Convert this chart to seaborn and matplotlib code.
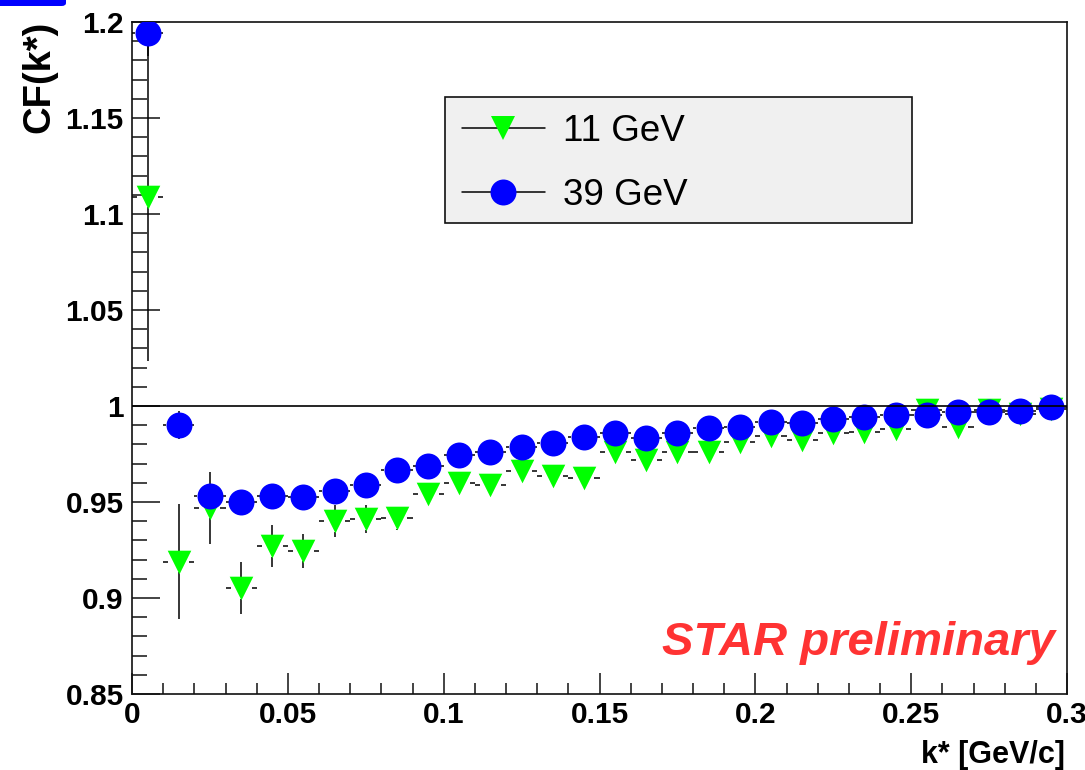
import matplotlib
matplotlib.use("Agg")
import matplotlib.pyplot as plt
from matplotlib.lines import Line2D
from matplotlib.patches import Rectangle, FancyBboxPatch
from matplotlib.ticker import FixedLocator, FuncFormatter
import pandas as pd
import seaborn as sns

# k* bin centres [GeV/c] and half bin width
kstar = [0.005, 0.015, 0.025, 0.035, 0.045, 0.055, 0.065, 0.075, 0.085, 0.095,
         0.105, 0.115, 0.125, 0.135, 0.145, 0.155, 0.165, 0.175, 0.185, 0.195,
         0.205, 0.215, 0.225, 0.235, 0.245, 0.255, 0.265, 0.275, 0.285, 0.295]
kstar_halfwidth = [0.005] * len(kstar)

# correlation function, 11 GeV
cf_11 = [1.109, 0.919, 0.947, 0.905, 0.927, 0.9245, 0.940, 0.941, 0.9415, 0.954,
         0.9597, 0.9589, 0.966, 0.9637, 0.9627, 0.9762, 0.9719, 0.9762, 0.976, 0.981,
         0.9845, 0.9823, 0.986, 0.9866, 0.988, 0.998, 0.989, 0.998, 0.996, 0.9985]
err_11 = [0.0856, 0.030, 0.0188, 0.0135, 0.0110, 0.0088, 0.0084, 0.0074, 0.0060, 0.0058,
          0.0056, 0.0055, 0.0054, 0.0052, 0.0051, 0.0050, 0.0049, 0.0048, 0.0047, 0.0046,
          0.0045, 0.0044, 0.0043, 0.0042, 0.0041, 0.0040, 0.0040, 0.0039, 0.0038, 0.0038]

# correlation function, 39 GeV
cf_39 = [1.1943, 0.9901, 0.9531, 0.9502, 0.9533, 0.9528, 0.9557, 0.9589, 0.9667, 0.9689,
         0.9745, 0.9762, 0.9785, 0.9809, 0.9837, 0.9858, 0.9832, 0.9858, 0.9886, 0.9892,
         0.9915, 0.9910, 0.9931, 0.9944, 0.9953, 0.9955, 0.9970, 0.9970, 0.9974, 0.9995]
err_39 = [0.012, 0.0075, 0.0060, 0.0050, 0.0045, 0.0045, 0.0042, 0.0040, 0.0040, 0.0038,
          0.0037, 0.0036, 0.0035, 0.0034, 0.0033, 0.0032, 0.0031, 0.0030, 0.0030, 0.0029,
          0.0028, 0.0028, 0.0027, 0.0027, 0.0026, 0.0026, 0.0025, 0.0025, 0.0024, 0.0024]

series_labels = ["11 GeV", "39 GeV"]
x_ticks = [0, 0.05, 0.1, 0.15, 0.2, 0.25, 0.3]
y_ticks = [0.85, 0.9, 0.95, 1.0, 1.05, 1.1, 1.15, 1.2]

W, H = 1085, 770
GREEN = "#00ff00"
BLUE = "#0000ff"
INK = "#111111"

sns.set_style("white")
plt.rcParams["font.family"] = ["Liberation Sans", "DejaVu Sans"]
plt.rcParams["font.weight"] = "bold"
plt.rcParams["text.color"] = "black"

fig = plt.figure(figsize=(W / 100, H / 100), dpi=100)
ax = fig.add_axes([132 / W, 1 - 694 / H, 935 / W, 672 / H])
ax.set_xlim(0, 0.3)
ax.set_ylim(0.85, 1.2)


def px_to_data(px_x, px_y):
    inv = ax.transData.inverted()
    x0, y0 = inv.transform((0, 0))
    x1, y1 = inv.transform((px_x, px_y))
    return x1 - x0, y1 - y0


def draw_errors(x, y, ex, ey, gap_px, z):
    """Error bars with a gap around the marker."""
    gx, gy = px_to_data(gap_px, gap_px)
    hx0, hx1, hy = [], [], []
    for xi, yi, exi in zip(x, y, ex):
        if exi > gx:
            hx0 += [xi - exi, xi + gx]
            hx1 += [xi - gx, xi + exi]
            hy += [yi, yi]
    ax.hlines(hy, hx0, hx1, colors="black", linewidth=1.1, zorder=z)
    vy0, vy1, vx = [], [], []
    for xi, yi, eyi in zip(x, y, ey):
        if eyi > gy:
            vy0 += [yi - eyi, yi + gy]
            vy1 += [yi - gy, yi + eyi]
            vx += [xi, xi]
    ax.vlines(vx, vy0, vy1, colors="black", linewidth=1.1, zorder=z)


df11 = pd.DataFrame({"k": kstar, "cf": cf_11})
df39 = pd.DataFrame({"k": kstar, "cf": cf_39})

draw_errors(kstar, cf_11, kstar_halfwidth, err_11, 10.5, 2)
sns.scatterplot(data=df11, x="k", y="cf", marker="v", s=17 ** 2, color=GREEN,
                linewidth=0, ax=ax, zorder=3, legend=False)
draw_errors(kstar, cf_39, kstar_halfwidth, err_39, 12.5, 4)
sns.scatterplot(data=df39, x="k", y="cf", marker="o", s=18.7 ** 2, color=BLUE,
                linewidth=0, ax=ax, zorder=5, legend=False)

ax.axhline(1.0, color="black", linewidth=1.2, zorder=6)

# axes, ticks and labels
ax.set_xlabel("")
ax.set_ylabel("")
for sp in ax.spines.values():
    sp.set_color(INK)
    sp.set_linewidth(1.2)
ax.xaxis.set_major_locator(FixedLocator(x_ticks))
ax.yaxis.set_major_locator(FixedLocator(y_ticks))
ax.xaxis.set_minor_locator(FixedLocator([i / 100 for i in range(31)]))
ax.yaxis.set_minor_locator(FixedLocator([0.85 + i / 100 for i in range(36)]))
fmt = FuncFormatter(lambda v, p: f"{v:g}")
ax.xaxis.set_major_formatter(fmt)
ax.yaxis.set_major_formatter(fmt)
ax.tick_params(axis="both", which="both", direction="in", bottom=True, left=True,
               top=False, right=False, width=1.1, color=INK, labelcolor="black",
               labelsize=21.5)
ax.tick_params(axis="x", which="major", length=15, pad=5)
ax.tick_params(axis="x", which="minor", length=8)
ax.tick_params(axis="y", which="major", length=20, pad=6)
ax.tick_params(axis="y", which="minor", length=11)
for lab in ax.get_xticklabels() + ax.get_yticklabels():
    lab.set_fontweight("bold")

fig.text(1065 / W, 1 - 755 / H, "k* [GeV/c]", ha="right", va="center",
         fontsize=22, fontweight="bold", color="black")
fig.text(39 / W, 1 - 21 / H, "CF(k*)", ha="center", va="top", rotation=90,
         fontsize=27.5, fontweight="bold", color="black")

# legend box
ax.add_patch(Rectangle((445 / W, 1 - 223 / H), 467 / W, 126 / H,
                       transform=fig.transFigure, facecolor="#f0f0f0",
                       edgecolor=INK, linewidth=1.2, zorder=7, clip_on=False))
handles = [
    Line2D([], [], color="black", linewidth=1.1, marker="v", markersize=17,
           markerfacecolor=GREEN, markeredgewidth=0),
    Line2D([], [], color="black", linewidth=1.1, marker="o", markersize=18.7,
           markerfacecolor=BLUE, markeredgewidth=0),
]
leg = ax.legend(handles, series_labels, loc="center left",
                bbox_to_anchor=(462 / W, 1 - 163.5 / H), bbox_transform=fig.transFigure,
                frameon=False, borderpad=0, borderaxespad=0, handlelength=2.25,
                handletextpad=0.5, labelspacing=0.77,
                prop={"family": "Liberation Sans", "weight": "normal", "size": 26.5})
leg.set_zorder(8)
for t in leg.get_texts():
    t.set_color("black")

ax.text(1055 / W, 1 - 655 / H, "STAR preliminary", transform=fig.transFigure,
        ha="right", va="baseline", color="#ff3333", fontsize=34,
        fontweight="bold", fontstyle="italic", zorder=9)

# corner tab
fig.patches.append(FancyBboxPatch((-10 / W, 1 - 6 / H), 76 / W, 20 / H,
                                  boxstyle="round,pad=0,rounding_size=0.004",
                                  transform=fig.transFigure, facecolor=BLUE,
                                  edgecolor="none"))

fig.savefig("out.png", dpi=100)
